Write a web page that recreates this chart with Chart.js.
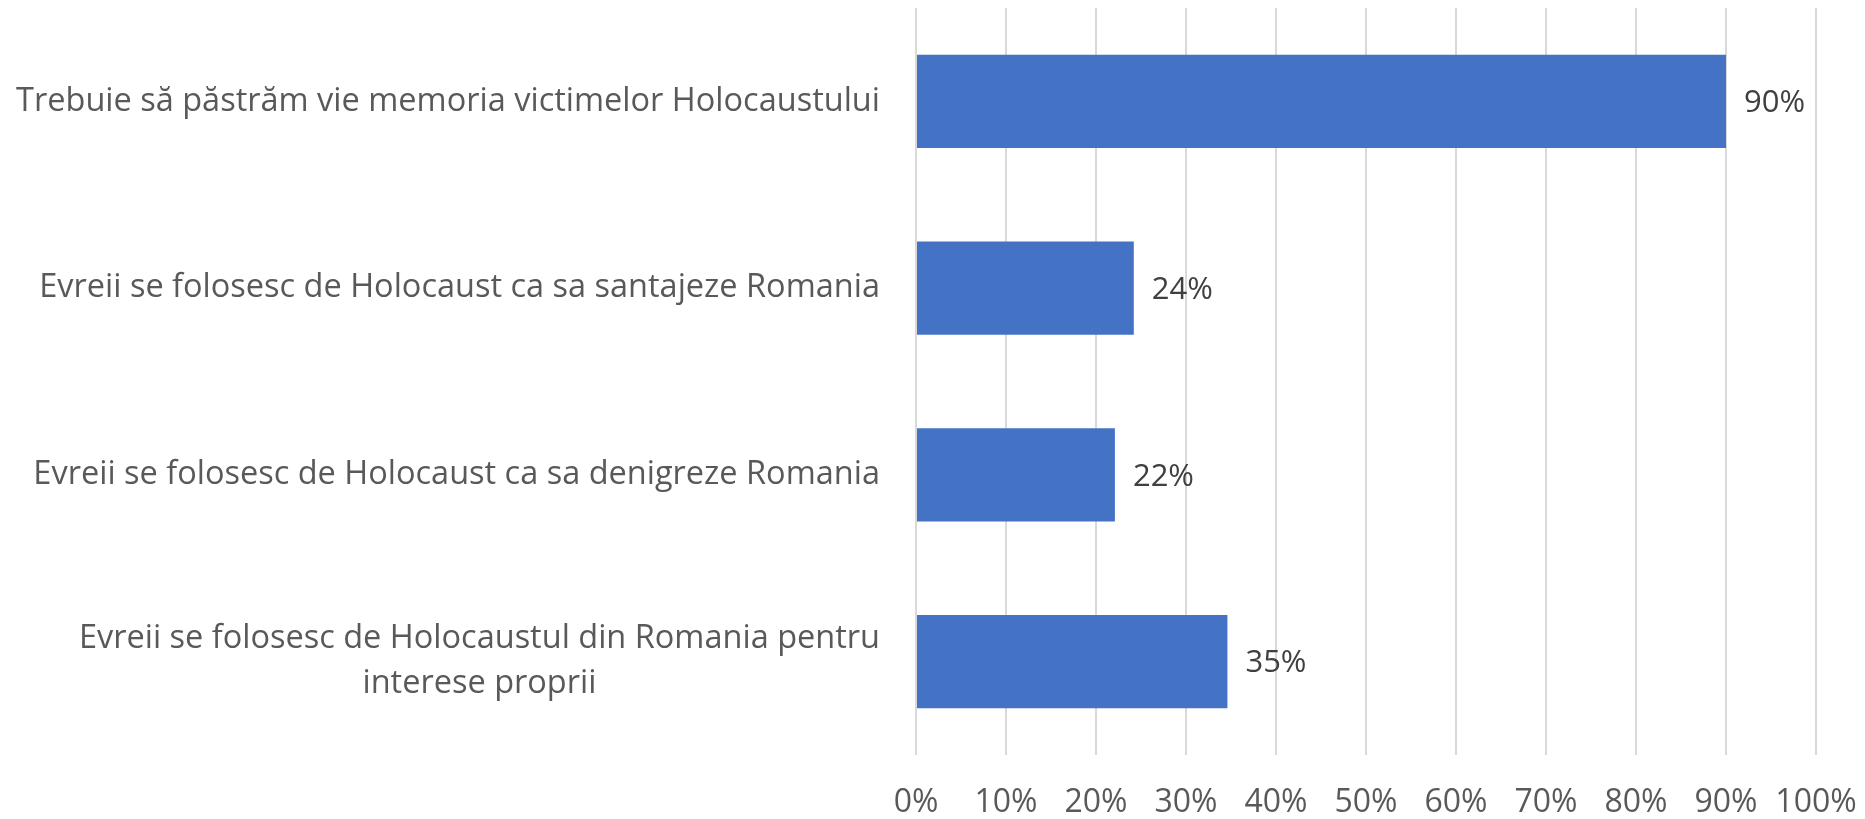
<!DOCTYPE html>
<html>
<head>
<meta charset="utf-8">
<script src="https://cdn.jsdelivr.net/npm/chart.js@4.4.0/dist/chart.umd.min.js"></script>
<style>
  html, body { margin: 0; padding: 0; background: #fff; }
  #wrap { width: 1865px; height: 819px; }
</style>
</head>
<body>
<div id="wrap"><canvas id="chart"></canvas></div>
<script>
// Data
const categories = [
    ['Trebuie să păstrăm vie memoria victimelor Holocaustului'],
    ['Evreii se folosesc de Holocaust ca sa santajeze Romania'],
    ['Evreii se folosesc de Holocaust ca sa denigreze Romania'],
    ['Evreii se folosesc de Holocaustul din Romania pentru', 'interese proprii']
];
const values = [90, 24.2, 22.1, 34.6];
const xTicks = [0, 10, 20, 30, 40, 50, 60, 70, 80, 90, 100];

const labelColor = '#595959';
const valueColor = '#404040';
const fontFamily = '"Open Sans", "Noto Sans", sans-serif';

// Category labels, right aligned next to the axis, multi-line centered within themselves
const categoryLabels = {
    id: 'categoryLabels',
    afterDraw(chart) {
        const ctx = chart.ctx;
        const yScale = chart.scales.y;
        const right = chart.chartArea.left - 36;
        const lineH = 45;
        ctx.save();
        ctx.font = '32.5px ' + fontFamily;
        ctx.fillStyle = labelColor;
        ctx.textAlign = 'center';
        ctx.textBaseline = 'middle';
        categories.forEach((lines, i) => {
            const cy = yScale.getPixelForValue(i);
            const w = Math.max(...lines.map(l => ctx.measureText(l).width));
            const cx = right - w / 2;
            const y0 = cy - (lines.length - 1) * lineH / 2;
            lines.forEach((l, j) => ctx.fillText(l, cx, y0 + j * lineH));
        });
        ctx.restore();
    }
};

// Value labels at the end of each bar
const valueLabels = {
    id: 'valueLabels',
    afterDatasetsDraw(chart) {
        const ctx = chart.ctx;
        const meta = chart.getDatasetMeta(0);
        ctx.save();
        ctx.font = '31px ' + fontFamily;
        ctx.fillStyle = valueColor;
        ctx.textAlign = 'left';
        ctx.textBaseline = 'middle';
        meta.data.forEach((bar, i) => {
            ctx.fillText(Math.round(values[i]) + '%', bar.x + 18, bar.y + 2);
        });
        ctx.restore();
    }
};

new Chart(document.getElementById('chart').getContext('2d'), {
    type: 'bar',
    data: {
        labels: categories.map(c => c.join(' ')),
        datasets: [{
            data: values,
            backgroundColor: '#4472C4',
            borderWidth: 0,
            barPercentage: 0.5,
            categoryPercentage: 1.0
        }]
    },
    options: {
        indexAxis: 'y',
        responsive: true,
        maintainAspectRatio: false,
        animation: false,
        layout: {
            padding: { left: 916, right: 49, top: 8, bottom: 0 }
        },
        plugins: {
            legend: { display: false },
            tooltip: { enabled: false }
        },
        scales: {
            x: {
                min: 0,
                max: 100,
                afterBuildTicks: scale => {
                    scale.ticks = xTicks.map(v => ({ value: v }));
                },
                afterFit: scale => {
                    scale.height = 64;
                    scale.paddingLeft = 0;
                    scale.paddingRight = 0;
                },
                grid: {
                    color: '#d9d9d9',
                    lineWidth: 2,
                    drawTicks: false
                },
                border: { display: false },
                ticks: {
                    padding: 29,
                    color: labelColor,
                    font: { family: fontFamily, size: 32 },
                    callback: v => v + '%',
                    maxRotation: 0,
                    autoSkip: false
                }
            },
            y: {
                display: false
            }
        }
    },
    plugins: [categoryLabels, valueLabels]
});
</script>
</body>
</html>
